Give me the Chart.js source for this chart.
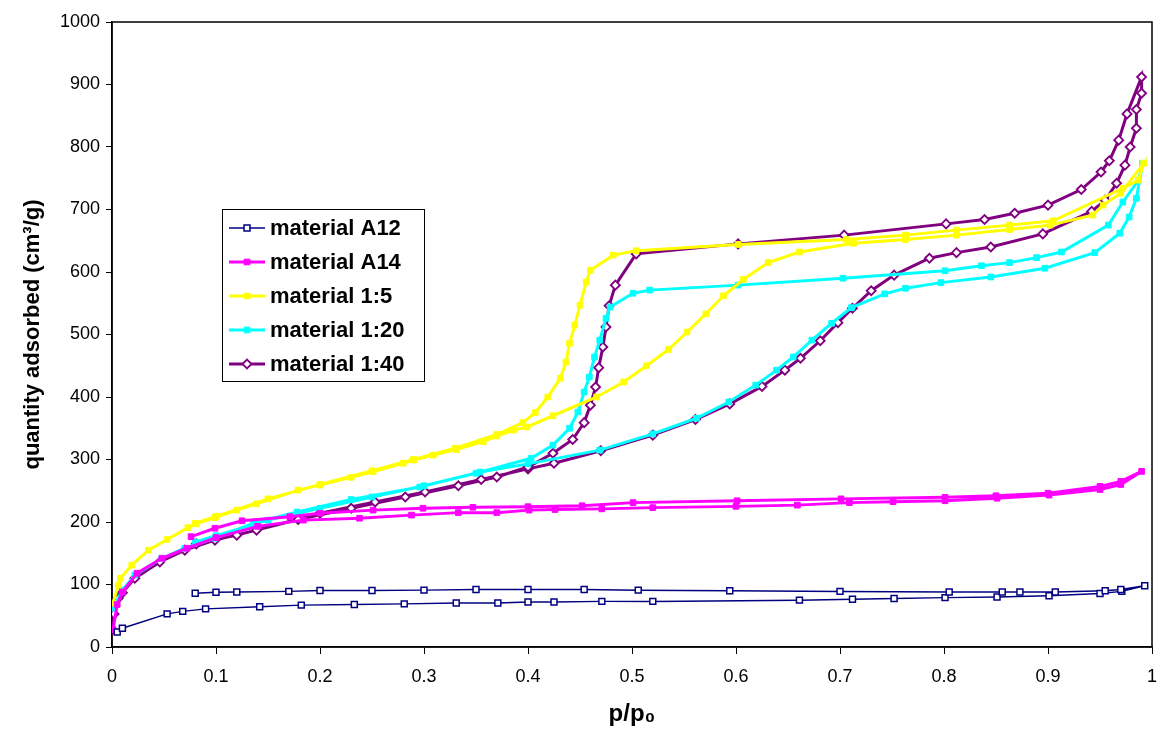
<!DOCTYPE html>
<html lang="en">
<head>
<meta charset="UTF-8">
<title>Adsorption isotherms</title>
<script src="https://cdn.jsdelivr.net/npm/chart.js"></script>
<style>
  body { margin: 0; background: #ffffff; }
  #wrap { width: 1160px; height: 731px; }
</style>
</head>
<body>
<div id="wrap"><canvas id="isoChart" width="1160" height="731"></canvas></div>
<script>
// series names (legend order)
const seriesNames = ['material A12', 'material A14', 'material 1:5', 'material 1:20', 'material 1:40'];

// tick labels
const xTicks = [0, 0.1, 0.2, 0.3, 0.4, 0.5, 0.6, 0.7, 0.8, 0.9, 1];
const yTicks = [0, 100, 200, 300, 400, 500, 600, 700, 800, 900, 1000];

// material A12: adsorption then desorption (p/p0, quantity)
const a12P = [0.005, 0.010, 0.053, 0.068, 0.090, 0.142, 0.182, 0.233, 0.281, 0.331, 0.371, 0.400, 0.425, 0.471, 0.520,
  0.661, 0.712, 0.752, 0.801, 0.851, 0.901, 0.950, 0.971, 0.993,
  0.970, 0.955, 0.907, 0.873, 0.856, 0.805, 0.700, 0.594, 0.506, 0.454, 0.400, 0.350, 0.300, 0.250, 0.200, 0.170, 0.120, 0.100, 0.080];
const a12Q = [24, 30, 53, 57, 61, 64.5, 67, 68, 69, 70.5, 70.5, 72, 72, 73, 73,
  75, 76.5, 77.5, 79, 80, 82, 85.5, 89, 98,
  92, 90, 88, 88, 88, 88, 89, 90, 91, 92, 92, 92, 91, 90.5, 90.5, 89, 88, 87.5, 86];

// material A14
const a14P = [0.001, 0.005, 0.010, 0.024, 0.048, 0.072, 0.100, 0.140, 0.184, 0.238, 0.288, 0.333, 0.370, 0.401, 0.426, 0.471,
  0.520, 0.600, 0.659, 0.709, 0.751, 0.801, 0.851, 0.901, 0.950, 0.970, 0.990,
  0.970, 0.950, 0.900, 0.850, 0.801, 0.701, 0.601, 0.501, 0.452, 0.400, 0.347, 0.299, 0.251, 0.200, 0.171, 0.125, 0.099, 0.076];
const a14Q = [28, 68, 88, 118, 142, 158, 175, 193, 203, 206, 211, 215, 215, 219, 220, 221,
  223, 225, 227, 231, 232.5, 234, 238, 243, 252, 260, 281,
  265, 257, 246, 242, 239.5, 237, 234, 231, 226, 224.5, 223.5, 222, 219, 214, 208.5, 202, 190, 176.5];

// material 1:5
const m5P = [0.001, 0.006, 0.008, 0.019, 0.035, 0.053, 0.073, 0.081, 0.099, 0.120, 0.139, 0.179, 0.200, 0.230, 0.251, 0.280,
  0.290, 0.309, 0.331, 0.357, 0.370, 0.386, 0.399, 0.424, 0.466, 0.492, 0.514, 0.535, 0.553, 0.571, 0.588, 0.607, 0.631,
  0.661, 0.713, 0.763, 0.812, 0.863, 0.902, 0.943, 0.953, 0.970, 0.992,
  0.987, 0.972, 0.905, 0.863, 0.812, 0.763, 0.706, 0.602, 0.504, 0.482, 0.460, 0.456, 0.450, 0.445, 0.440, 0.4365, 0.431,
  0.419, 0.407, 0.395, 0.370, 0.330, 0.290, 0.250, 0.200, 0.150, 0.100, 0.080];
const m5Q = [70, 99, 110, 131, 155, 172, 191, 197, 207, 219, 229, 251, 259, 271.5, 280.5, 294,
  299, 307, 316, 328.5, 337.5, 347, 352, 370, 400, 424, 450, 476, 504, 533, 562, 588, 615,
  632, 646, 652, 659, 668, 675, 691, 707, 726, 774,
  747, 734, 682, 675, 667, 659, 652, 644, 634, 627, 603, 584, 547, 515, 486, 456, 430,
  400, 375, 359, 340, 318, 300, 282, 260, 237, 209, 198];

// material 1:20
const m20P = [0.001, 0.010, 0.022, 0.048, 0.070, 0.099, 0.136, 0.178, 0.230, 0.296, 0.354, 0.400, 0.469, 0.520, 0.562, 0.593,
  0.619, 0.639, 0.655, 0.673, 0.692, 0.711, 0.743, 0.763, 0.797, 0.845, 0.897, 0.945, 0.969, 0.978, 0.985, 0.991,
  0.987, 0.972, 0.958, 0.913, 0.889, 0.863, 0.836, 0.801, 0.703, 0.602, 0.517, 0.501, 0.479, 0.475, 0.469, 0.464, 0.459,
  0.454, 0.448, 0.440, 0.424, 0.403, 0.350, 0.300, 0.250, 0.200, 0.150, 0.100, 0.080];
const m20Q = [62, 91, 115, 142, 158, 174, 198, 216, 236, 256, 280, 293, 315, 341, 366, 392,
  419, 443, 464, 491, 518, 543, 565, 574, 583, 592, 606, 631, 662, 688, 718, 774,
  747, 712, 675, 632, 623, 615, 610, 602, 590, 579, 571, 566, 544, 526, 491, 464, 432,
  408, 376, 350, 323, 302, 278, 258, 240, 222, 203, 178, 168];

// material 1:40
const m40P = [0.000, 0.002, 0.006, 0.010, 0.022, 0.046, 0.070, 0.099, 0.139, 0.200, 0.253, 0.301, 0.355, 0.400, 0.425, 0.470,
  0.520, 0.561, 0.594, 0.625, 0.647, 0.662, 0.681, 0.698, 0.712, 0.730, 0.752, 0.786, 0.812, 0.845, 0.895, 0.942, 0.955,
  0.966, 0.974, 0.979, 0.985, 0.985, 0.990, 0.990,
  0.976, 0.968, 0.959, 0.951, 0.932, 0.900, 0.868, 0.839, 0.802, 0.704, 0.602, 0.504, 0.484, 0.478, 0.475, 0.472, 0.468,
  0.465, 0.460, 0.454, 0.443, 0.424, 0.400, 0.370, 0.333, 0.282, 0.230, 0.179, 0.120, 0.081];
const m40Q = [27, 53, 78, 87, 110, 136, 155, 171, 187, 214, 232, 248, 268, 285, 294, 314,
  339, 364, 389, 417, 443, 462, 490, 519, 542, 570, 595, 622, 631, 640, 661, 697, 715,
  742, 771, 800, 830, 860, 886, 912,
  853, 811, 778, 760, 732, 707, 694, 684, 677, 659, 645, 629, 579, 546, 512, 480, 447,
  416, 387, 359, 332, 310, 288, 272, 258, 240, 222, 204, 179, 165];

function toPoints(px, qy) {
  return px.map((p, i) => ({ x: p, y: qy[i] }));
}

const fontFamily = '"Liberation Sans", Arial, sans-serif';

const datasets = [
  { label: seriesNames[0], data: toPoints(a12P, a12Q), borderColor: '#000080', borderWidth: 1.5,
    pointStyle: 'rect', pointRadius: 4.2, pointBorderWidth: 1.5, pointBorderColor: '#000080', pointBackgroundColor: '#ffffff' },
  { label: seriesNames[1], data: toPoints(a14P, a14Q), borderColor: '#ff00ff', borderWidth: 3,
    pointStyle: 'rect', pointRadius: 4, pointBorderWidth: 1, pointBorderColor: '#ff00ff', pointBackgroundColor: '#ff00ff' },
  { label: seriesNames[2], data: toPoints(m5P, m5Q), borderColor: '#ffff00', borderWidth: 3,
    pointStyle: 'rect', pointRadius: 4, pointBorderWidth: 1, pointBorderColor: '#ffff00', pointBackgroundColor: '#ffff00' },
  { label: seriesNames[3], data: toPoints(m20P, m20Q), borderColor: '#00ffff', borderWidth: 3,
    pointStyle: 'rect', pointRadius: 4, pointBorderWidth: 1, pointBorderColor: '#00ffff', pointBackgroundColor: '#00ffff' },
  { label: seriesNames[4], data: toPoints(m40P, m40Q), borderColor: '#800080', borderWidth: 3,
    pointStyle: 'rectRot', pointRadius: 4.5, pointBorderWidth: 1.8, pointBorderColor: '#800080', pointBackgroundColor: '#ffffff' }
];
datasets.forEach(d => { d.showLine = true; d.fill = false; d.tension = 0; });

// draw a marker like the chart does (square / diamond)
function drawMarker(ctx, ds, x, y) {
  const r = ds.pointRadius;
  ctx.save();
  ctx.beginPath();
  if (ds.pointStyle === 'rectRot') {
    ctx.moveTo(x - r, y); ctx.lineTo(x, y - r); ctx.lineTo(x + r, y); ctx.lineTo(x, y + r); ctx.closePath();
  } else {
    const s = r * Math.SQRT1_2;
    ctx.rect(x - s, y - s, 2 * s, 2 * s);
  }
  ctx.fillStyle = ds.pointBackgroundColor;
  ctx.fill();
  ctx.lineWidth = ds.pointBorderWidth;
  ctx.strokeStyle = ds.pointBorderColor;
  ctx.stroke();
  ctx.restore();
}

// box round the plot area
const framePlugin = {
  id: 'frame',
  beforeDatasetsDraw(chart) {
    const { ctx, chartArea: a } = chart;
    ctx.save();
    ctx.strokeStyle = '#000';
    ctx.lineWidth = 1.5;
    ctx.strokeRect(a.left, a.top, a.right - a.left, a.bottom - a.top);
    ctx.restore();
  }
};

// legend box placed inside the plot like the original
const boxLegend = {
  id: 'boxLegend',
  afterDraw(chart) {
    const ctx = chart.ctx;
    const bx = 222, by = 209, bw = 202, bh = 172;
    ctx.save();
    ctx.fillStyle = '#fff';
    ctx.fillRect(bx, by, bw, bh);
    ctx.strokeStyle = '#000';
    ctx.lineWidth = 1;
    ctx.strokeRect(bx + 0.5, by + 0.5, bw, bh);
    ctx.font = 'bold 22px ' + fontFamily;
    ctx.textBaseline = 'middle';
    ctx.textAlign = 'left';
    chart.data.datasets.forEach((ds, i) => {
      const y = 228 + i * 34;
      ctx.beginPath();
      ctx.moveTo(229, y);
      ctx.lineTo(265, y);
      ctx.strokeStyle = ds.borderColor;
      ctx.lineWidth = ds.borderWidth;
      ctx.stroke();
      drawMarker(ctx, ds, 247, y);
      ctx.fillStyle = '#000';
      ctx.fillText(ds.label, 270, y + 1);
    });
    ctx.restore();
  }
};

new Chart(document.getElementById('isoChart'), {
  type: 'scatter',
  data: { datasets: datasets },
  plugins: [framePlugin, boxLegend],
  options: {
    responsive: false,
    animation: false,
    devicePixelRatio: 1,
    layout: { padding: { top: 22, right: 8, bottom: 0, left: 0 } },
    plugins: { legend: { display: false }, tooltip: { enabled: false } },
    scales: {
      x: {
        type: 'linear', min: 0, max: 1,
        afterFit: s => { s.height = 84; s.paddingRight = 0; s.paddingLeft = 0; },
        afterBuildTicks: s => { s.ticks = xTicks.map(v => ({ value: v })); },
        grid: { drawOnChartArea: false, tickLength: 7, color: '#000', lineWidth: 1 },
        border: { color: '#000', width: 1.5 },
        ticks: { color: '#000', padding: 12, maxRotation: 0, font: { family: fontFamily, size: 18 },
          callback: v => String(+v.toFixed(1)) },
        title: { display: true, text: 'p/p₀', color: '#000', padding: { top: 0, bottom: 2 },
          font: { family: fontFamily, size: 24, weight: 'bold' } }
      },
      y: {
        type: 'linear', min: 0, max: 1000,
        afterFit: s => { s.width = 112; },
        afterBuildTicks: s => { s.ticks = yTicks.map(v => ({ value: v })); },
        grid: { drawOnChartArea: false, tickLength: 6, color: '#000', lineWidth: 1 },
        border: { color: '#000', width: 1.5 },
        ticks: { color: '#000', padding: 6, font: { family: fontFamily, size: 18 },
          callback: v => String(v) },
        title: { display: true, text: 'quantity adsorbed (cm³/g)', color: '#000', padding: { top: 20, bottom: 0 },
          font: { family: fontFamily, size: 22, weight: 'bold' } }
      }
    }
  }
});
</script>
</body>
</html>
